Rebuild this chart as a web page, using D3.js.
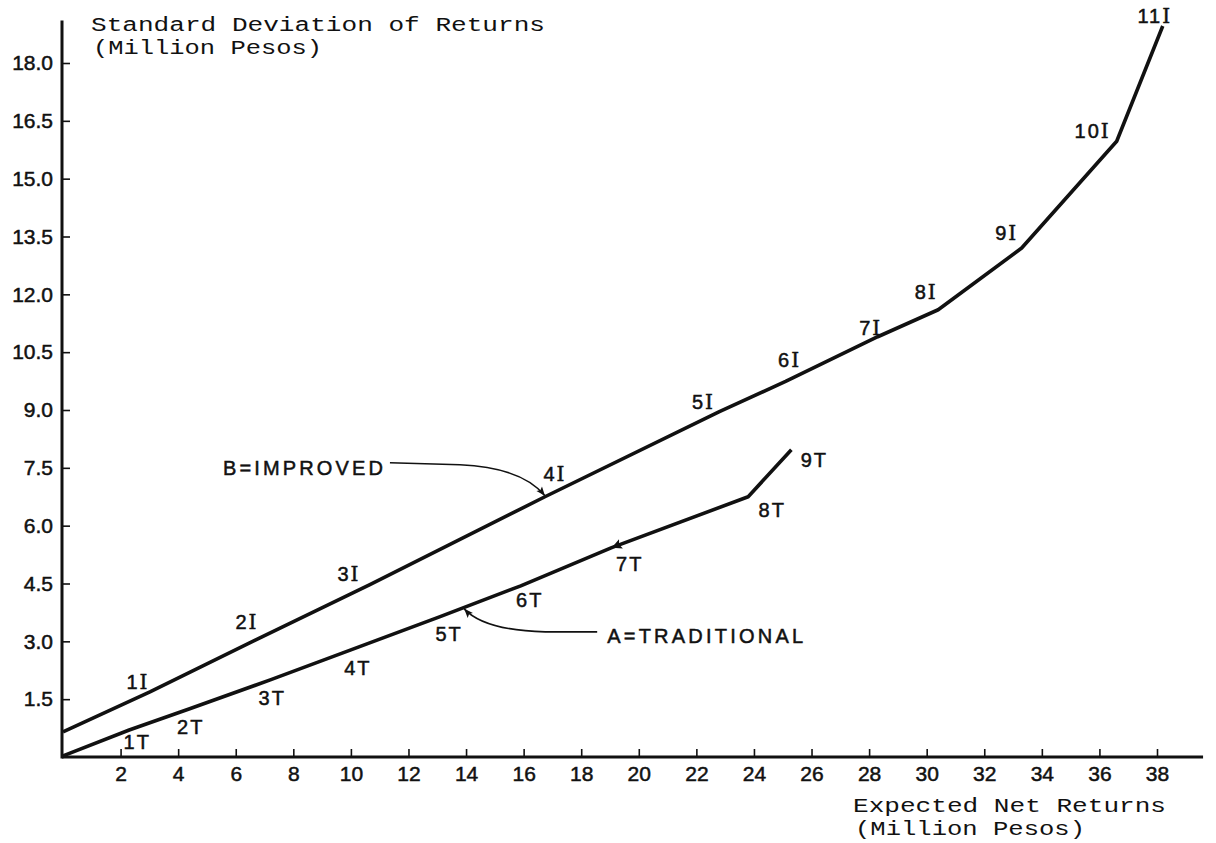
<!DOCTYPE html>
<html>
<head>
<meta charset="utf-8">
<script src="https://cdn.jsdelivr.net/npm/d3@7"></script>
<style>
  body { margin: 0; background: #fff; }
  svg { display: block; }
</style>
</head>
<body>
<div id="chart"></div>
<script>
// data (million pesos)
const improvedX = [0, 3.02, 6.84, 10.66, 16.74, 22.8, 25.1, 28.3, 30.4, 33.3, 36.6, 38.2];
const improvedY = [0.65, 1.69, 3.09, 4.47, 6.75, 8.96, 9.74, 10.9, 11.6, 13.2, 15.97, 18.96];
const improvedLabels = ["", "1", "2", "3", "4", "5", "6", "7", "8", "9", "10", "11"];

const traditionalX = [0, 2.3, 4.4, 7.2, 10.0, 13.1, 15.9, 19.06, 23.8, 25.3];
const traditionalY = [0.03, 0.70, 1.25, 2.0, 2.78, 3.64, 4.44, 5.43, 6.75, 7.97];
const traditionalLabels = ["", "1", "2", "3", "4", "5", "6", "7", "8", "9"];

const xTickValues = [2, 4, 6, 8, 10, 12, 14, 16, 18, 20, 22, 24, 26, 28, 30, 32, 34, 36, 38];
const yTickValues = [1.5, 3.0, 4.5, 6.0, 7.5, 9.0, 10.5, 12.0, 13.5, 15.0, 16.5, 18.0];

// label placement relative to each point (pixels)
const improvedOffsets = [[0, 0], [-12, -10], [-13, -16], [-21, -11], [10, -23], [-16, -10],
  [4, -22], [-7, -9], [-12, -18], [-15, -15], [-24, -10], [-8, -10]];
const traditionalOffsets = [[0, 0], [8, 12], [1, 18], [2, 18], [7, 18], [9, 17],
  [9, 14], [18, 16], [24, 13], [23, 10]];

const width = 1216, height = 843;
const letterFont = "'Liberation Sans', Arial, sans-serif";
const typeFont = "'Liberation Mono', 'DejaVu Sans Mono', monospace";

const svg = d3.select("#chart")
  .append("svg")
  .attr("width", width)
  .attr("height", height);

const x = d3.scaleLinear().domain([0, 38]).range([63, 1157]);
const y = d3.scaleLinear().domain([0, 18]).range([757, 63]);

// arrow head marker
svg.append("defs").append("marker")
  .attr("id", "arrow")
  .attr("viewBox", "0 0 10 10")
  .attr("refX", 10).attr("refY", 5)
  .attr("markerWidth", 11).attr("markerHeight", 9)
  .attr("markerUnits", "userSpaceOnUse")
  .attr("orient", "auto")
  .append("path")
  .attr("d", "M0,1 L10,5 L0,9 L2,5 Z")
  .attr("fill", "#111");

// X axis
const xAxis = svg.append("g")
  .attr("transform", `translate(0, ${y(0)})`)
  .call(d3.axisBottom(x).tickValues(xTickValues).tickSizeInner(-8).tickSizeOuter(0)
    .tickPadding(9).tickFormat(d3.format("d")));
xAxis.select(".domain").remove();

// Y axis
const yAxis = svg.append("g")
  .attr("transform", `translate(${x(0) - 1}, 0)`)
  .call(d3.axisLeft(y).tickValues(yTickValues).tickSizeInner(-8).tickSizeOuter(0)
    .tickPadding(9).tickFormat(d3.format(".1f")));
yAxis.select(".domain").remove();

svg.selectAll(".tick line").attr("stroke", "#111").attr("stroke-width", 1.6);
svg.selectAll(".tick text")
  .attr("fill", "#111")
  .attr("stroke", "#111").attr("stroke-width", 0.5)
  .style("font-family", letterFont)
  .style("font-size", "21px");

// axis lines
svg.append("line")
  .attr("x1", x(0) - 1).attr("x2", x(39.6))
  .attr("y1", y(0)).attr("y2", y(0))
  .attr("stroke", "#111").attr("stroke-width", 3);
svg.append("line")
  .attr("x1", x(0) - 1).attr("x2", x(0) - 1)
  .attr("y1", y(0) + 1.5).attr("y2", y(19.1))
  .attr("stroke", "#111").attr("stroke-width", 3);

// axis titles
function typedTitle(lines) {
  const t = svg.append("text")
    .attr("fill", "#111")
    .style("font-family", typeFont)
    .style("font-size", "20px");
  lines.forEach(l => {
    t.append("tspan").attr("x", l.x).attr("y", l.y)
      .attr("textLength", l.len).attr("lengthAdjust", "spacingAndGlyphs")
      .text(l.text);
  });
}
typedTitle([
  {text: "Standard Deviation of Returns", x: 91, y: 31, len: 454},
  {text: "(Million Pesos)", x: 93, y: 54, len: 229}
]);
typedTitle([
  {text: "Expected Net Returns", x: 853, y: 812, len: 313},
  {text: "(Million Pesos)", x: 855, y: 835, len: 230}
]);

// series
const improved = improvedX.map((d, i) => ({x: d, y: improvedY[i], label: improvedLabels[i], off: improvedOffsets[i]}));
const traditional = traditionalX.map((d, i) => ({x: d, y: traditionalY[i], label: traditionalLabels[i], off: traditionalOffsets[i]}));

const line = d3.line().x(d => x(d.x)).y(d => y(d.y));

[improved, traditional].forEach(series => {
  svg.append("path")
    .datum(series)
    .attr("d", line)
    .attr("fill", "none")
    .attr("stroke", "#111")
    .attr("stroke-width", 3.6)
    .attr("stroke-linejoin", "round");
});

// point labels
function drawLabels(series, suffix, suffixFont) {
  series.filter(d => d.label !== "").forEach(d => {
    const t = svg.append("text")
      .attr("x", x(d.x) + d.off[0])
      .attr("y", y(d.y) + d.off[1])
      .attr("dy", "0.36em")
      .attr("text-anchor", "middle")
      .attr("fill", "#111")
      .attr("stroke", "#111").attr("stroke-width", 0.5)
      .style("font-family", letterFont)
      .style("font-size", "20px")
      .style("letter-spacing", "2px");
    t.append("tspan").text(d.label);
    t.append("tspan").style("font-family", suffixFont).text(suffix);
  });
}
drawLabels(improved, "I", "'DejaVu Serif', serif");
drawLabels(traditional, "T", letterFont);

// annotations
const bTip = [x(improvedX[4]), y(improvedY[4])];
svg.append("text")
  .attr("x", bTip[0] - 322).attr("y", bTip[1] - 22)
  .attr("textLength", 160).attr("lengthAdjust", "spacing")
  .attr("fill", "#111").attr("stroke", "#111").attr("stroke-width", 0.5)
  .style("font-family", letterFont).style("font-size", "20px")
  .text("B=IMPROVED");
svg.append("path")
  .attr("d", `M${bTip[0] - 155},${bTip[1] - 34} L${bTip[0] - 85},${bTip[1] - 32}
    C${bTip[0] - 40},${bTip[1] - 30} ${bTip[0] - 14},${bTip[1] - 18} ${bTip[0]},${bTip[1] - 1}`)
  .attr("fill", "none").attr("stroke", "#111").attr("stroke-width", 1.6)
  .attr("marker-end", "url(#arrow)");

const aTipX = 13.9;
const aTip = [x(aTipX), y(d3.scaleLinear().domain([traditionalX[5], traditionalX[6]])
  .range([traditionalY[5], traditionalY[6]])(aTipX))];
svg.append("text")
  .attr("x", aTip[0] + 144).attr("y", aTip[1] + 35)
  .attr("textLength", 196).attr("lengthAdjust", "spacing")
  .attr("fill", "#111").attr("stroke", "#111").attr("stroke-width", 0.5)
  .style("font-family", letterFont).style("font-size", "20px")
  .text("A=TRADITIONAL");
svg.append("path")
  .attr("d", `M${aTip[0] + 134},${aTip[1] + 24} L${aTip[0] + 82},${aTip[1] + 24}
    C${aTip[0] + 42},${aTip[1] + 23} ${aTip[0] + 15},${aTip[1] + 16} ${aTip[0] + 1},${aTip[1] + 1}`)
  .attr("fill", "none").attr("stroke", "#111").attr("stroke-width", 1.6)
  .attr("marker-end", "url(#arrow)");

// small arrow head drawn on line A at point 7T
const p7 = [x(traditionalX[7]), y(traditionalY[7])];
const p6 = [x(traditionalX[6]), y(traditionalY[6])];
const ang = Math.atan2(p6[1] - p7[1], p6[0] - p7[0]) * 180 / Math.PI;
svg.append("path")
  .attr("d", "M0,0 L-10,-5 L-8,0 L-10,5 Z")
  .attr("transform", `translate(${p7[0]},${p7[1]}) rotate(${ang})`)
  .attr("fill", "#111");
</script>
</body>
</html>
